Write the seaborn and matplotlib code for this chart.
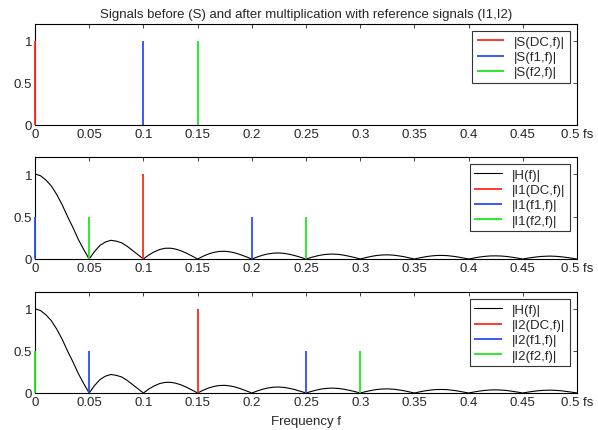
import numpy as np
import pandas as pd
import matplotlib
matplotlib.use("Agg")
import matplotlib.pyplot as plt
import seaborn as sns

sns.set_style("white")
plt.rcParams['font.family'] = ['Liberation Sans', 'DejaVu Sans']

# frequency grid (fraction of fs) for |H(f)|
freq_h = np.round(np.arange(0, 0.5001, 0.005), 4)
# |H(f)| values
h_vals = [1.00, 0.98, 0.93, 0.86, 0.76, 0.64, 0.50, 0.37, 0.23, 0.11,
          0.00, 0.09, 0.16, 0.20, 0.22, 0.21, 0.19, 0.15, 0.10, 0.05,
          0.00, 0.047, 0.085, 0.112, 0.126, 0.127, 0.116, 0.095, 0.067, 0.034,
          0.00, 0.032, 0.059, 0.078, 0.089, 0.091, 0.084, 0.070, 0.049, 0.025,
          0.00, 0.024, 0.045, 0.060, 0.069, 0.071, 0.066, 0.055, 0.039, 0.020,
          0.00, 0.019, 0.036, 0.049, 0.056, 0.058, 0.054, 0.045, 0.032, 0.017,
          0.00, 0.016, 0.030, 0.041, 0.047, 0.049, 0.046, 0.038, 0.028, 0.014,
          0.00, 0.014, 0.026, 0.035, 0.041, 0.042, 0.040, 0.033, 0.024, 0.012,
          0.00, 0.012, 0.023, 0.031, 0.036, 0.037, 0.035, 0.030, 0.021, 0.011,
          0.00, 0.011, 0.020, 0.028, 0.032, 0.034, 0.032, 0.027, 0.019, 0.010,
          0.00]

# spectral lines: (frequencies, magnitudes)
s_dc_f, s_dc_a = [0.0], [1.0]
s_f1_f, s_f1_a = [0.1], [1.0]
s_f2_f, s_f2_a = [0.15], [1.0]

i1_dc_f, i1_dc_a = [0.1], [1.0]
i1_f1_f, i1_f1_a = [0.0, 0.2], [0.5, 0.5]
i1_f2_f, i1_f2_a = [0.05, 0.25], [0.5, 0.5]

i2_dc_f, i2_dc_a = [0.15], [1.0]
i2_f1_f, i2_f1_a = [0.05, 0.25], [0.5, 0.5]
i2_f2_f, i2_f2_a = [0.0, 0.3], [0.5, 0.5]

legend_s = ["|S(DC,f)|", "|S(f1,f)|", "|S(f2,f)|"]
legend_i1 = ["|H(f)|", "|I1(DC,f)|", "|I1(f1,f)|", "|I1(f2,f)|"]
legend_i2 = ["|H(f)|", "|I2(DC,f)|", "|I2(f1,f)|", "|I2(f2,f)|"]

xticks = [0, 0.05, 0.1, 0.15, 0.2, 0.25, 0.3, 0.35, 0.4, 0.45, 0.5]
xticklabels = ["0", "0.05", "0.1", "0.15", "0.2", "0.25", "0.3", "0.35", "0.4", "0.45", "0.5 fs"]
yticks = [0, 0.5, 1]
yticklabels = ["0", "0.5", "1"]

RED, BLUE, GREEN = "#ff2a1a", "#2a4cff", "#1ee61e"
FS = 9.5

fig = plt.figure(figsize=(5.98, 4.31), dpi=100)
left, width = 35 / 598, 542 / 598
boxes = [(1 - 126 / 431, 101 / 431), (1 - 260 / 431, 102 / 431), (1 - 394 / 431, 101 / 431)]
axes = [fig.add_axes([left, b, width, h]) for b, h in boxes]

hdf = pd.DataFrame({"f": freq_h, "H": h_vals})

def style(ax):
    ax.set_xlim(0, 0.5)
    ax.set_ylim(0, 1.2)
    ax.set_xticks(xticks)
    ax.set_xticklabels(xticklabels, fontsize=FS)
    ax.set_yticks(yticks)
    ax.set_yticklabels(yticklabels, fontsize=FS)
    ax.tick_params(direction="in", top=True, right=True, length=3, width=0.6, pad=2)
    for sp in ax.spines.values():
        sp.set_visible(True)
        sp.set_color("black")
        sp.set_linewidth(0.8)
        sp.set_zorder(1)
    ax.set_xlabel("")
    ax.set_ylabel("")

def stems(ax, fr, am, color, label):
    ax.vlines(fr, 0, am, colors=color, linewidth=1.3, label=label, zorder=4, clip_on=False)

def legend(ax):
    leg = ax.legend(loc="upper right", fontsize=FS, frameon=True, fancybox=False,
                    handlelength=2.1, borderpad=0.35, labelspacing=0.22,
                    handletextpad=0.75, borderaxespad=0.55)
    leg.get_frame().set_edgecolor("black")
    leg.get_frame().set_linewidth(0.8)
    leg.set_zorder(6)

# top
ax = axes[0]
stems(ax, s_dc_f, s_dc_a, RED, legend_s[0])
stems(ax, s_f1_f, s_f1_a, BLUE, legend_s[1])
stems(ax, s_f2_f, s_f2_a, GREEN, legend_s[2])
style(ax)
legend(ax)
ax.set_title("Signals before (S) and after multiplication with reference signals (I1,I2)",
             fontsize=FS, pad=5)

# middle
ax = axes[1]
sns.lineplot(data=hdf, x="f", y="H", ax=ax, color="black", linewidth=0.8, label=legend_i1[0])
stems(ax, i1_dc_f, i1_dc_a, RED, legend_i1[1])
stems(ax, i1_f1_f, i1_f1_a, BLUE, legend_i1[2])
stems(ax, i1_f2_f, i1_f2_a, GREEN, legend_i1[3])
style(ax)
legend(ax)

# bottom
ax = axes[2]
sns.lineplot(data=hdf, x="f", y="H", ax=ax, color="black", linewidth=0.8, label=legend_i2[0])
stems(ax, i2_dc_f, i2_dc_a, RED, legend_i2[1])
stems(ax, i2_f1_f, i2_f1_a, BLUE, legend_i2[2])
stems(ax, i2_f2_f, i2_f2_a, GREEN, legend_i2[3])
style(ax)
legend(ax)
ax.set_xlabel("Frequency f", fontsize=FS, labelpad=5)

fig.savefig("out.png", dpi=100)
